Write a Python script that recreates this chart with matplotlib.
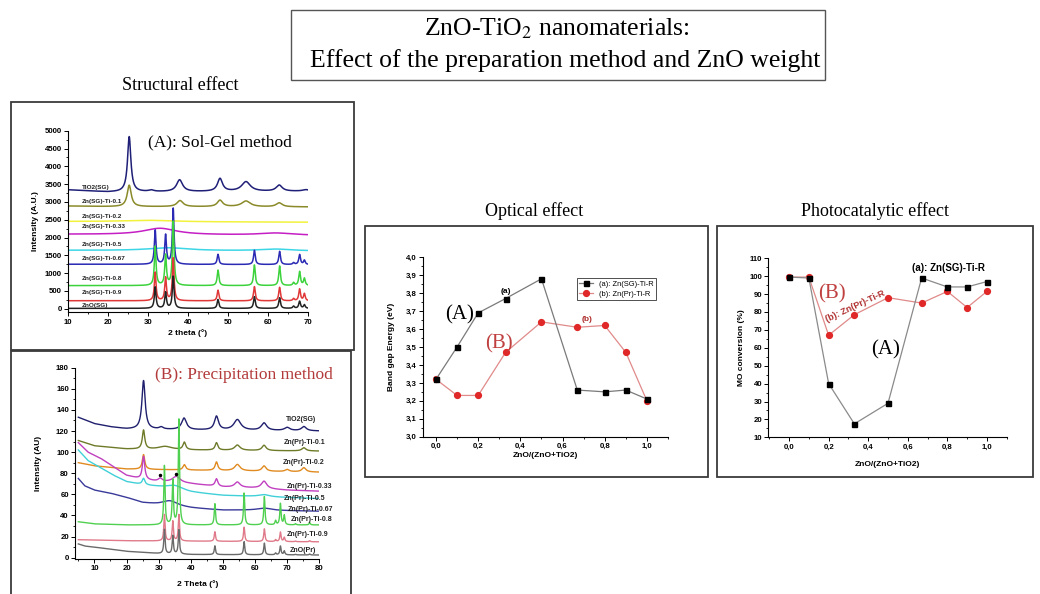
import numpy as np
import matplotlib
matplotlib.use("Agg")
import matplotlib.pyplot as plt
from matplotlib.patches import Rectangle
from matplotlib.ticker import MultipleLocator, FuncFormatter

plt.rcParams['font.family'] = ['Liberation Sans', 'DejaVu Sans']
plt.rcParams['mathtext.fontset'] = 'stix'

W, H = 1040, 594
SERIF = ['Liberation Serif', 'DejaVu Serif']

# ---------------- data: band gap / photocatalysis ----------------
zn_frac = [0.0, 0.1, 0.2, 0.33, 0.5, 0.67, 0.8, 0.9, 1.0]
gap_sg = [3.32, 3.50, 3.69, 3.77, 3.88, 3.26, 3.25, 3.26, 3.21]
gap_pr = [3.32, 3.23, 3.23, 3.47, 3.64, 3.61, 3.62, 3.47, 3.20]
conv_sg = [99.5, 99.0, 40.0, 17.5, 29.0, 99.0, 94.0, 94.0, 97.0]
conv_pr = [99.5, 99.5, 67.0, 78.5, 88.0, 85.0, 91.5, 82.5, 91.5]

# ---------------- data: XRD patterns (peak tables) ----------------
# Each pattern: label, colour, baseline knots (2theta, I), peaks (centre, height, FWHM)
sg_labels = ['TiO2(SG)', 'Zn(SG)-Ti-0.1', 'Zn(SG)-Ti-0.2', 'Zn(SG)-Ti-0.33',
             'Zn(SG)-Ti-0.5', 'Zn(SG)-Ti-0.67', 'Zn(SG)-Ti-0.8', 'Zn(SG)-Ti-0.9', 'ZnO(SG)']
sg_colors = ['#1f1f78', '#8a8a2a', '#f2f23c', '#c41ec4', '#3cd6e6',
             '#2a2ab4', '#3cd23c', '#e03838', '#222222']
sg_base = [
    [(10, 3340), (20, 3280), (70, 3300)],
    [(10, 2885), (20, 2870), (70, 2860)],
    [(10, 2450), (70, 2430)],
    [(10, 2090), (70, 2060)],
    [(10, 1640), (70, 1620)],
    [(10, 1250), (70, 1240)],
    [(10, 650), (70, 650)],
    [(10, 225), (70, 220)],
    [(10, 10), (70, 10)],
]
anatase_sg = [(25.3, 1550, 1.0), (30.8, 40, 1.5), (37.9, 330, 1.8), (48.0, 360, 1.5),
              (54.5, 270, 2.6), (62.8, 170, 1.8), (69.5, 40, 2.0)]
sg_peaks = [
    anatase_sg,
    [(25.3, 600, 1.2), (38.0, 170, 1.8), (48.0, 180, 1.6), (54.5, 160, 2.6), (62.8, 110, 1.8)],
    [(30.0, 40, 15.0)],
    [(33.0, 180, 10.0), (62.0, 60, 10.0)],
    [(35.0, 80, 12.0), (62.0, 50, 10.0)],
    [(31.8, 960, 0.5), (34.4, 820, 0.5), (36.3, 1570, 0.5), (47.5, 285, 0.5),
     (56.6, 400, 0.5), (62.9, 370, 0.5), (66.4, 50, 0.5), (67.9, 280, 0.5), (69.1, 120, 0.5)],
    [(31.8, 1100, 0.5), (34.4, 850, 0.5), (36.3, 1800, 0.5), (47.5, 435, 0.5),
     (56.6, 580, 0.5), (62.9, 550, 0.5), (66.4, 80, 0.5), (67.9, 390, 0.5), (69.1, 200, 0.5)],
    [(31.8, 800, 0.5), (34.4, 650, 0.5), (36.3, 1200, 0.5), (47.5, 300, 0.5),
     (56.6, 400, 0.5), (62.9, 380, 0.5), (66.4, 60, 0.5), (67.9, 330, 0.5), (69.1, 200, 0.5)],
    [(31.8, 600, 0.5), (34.4, 450, 0.5), (36.3, 900, 0.5), (47.5, 250, 0.5),
     (56.6, 330, 0.5), (62.9, 300, 0.5), (66.4, 60, 0.5), (67.9, 200, 0.5), (69.1, 100, 0.5)],
]
sg_label_y = [3410, 3000, 2595, 2303, 1817, 1404, 843, 449, 104]

pr_labels = ['TiO2(SG)', 'Zn(Pr)-Ti-0.1', 'Zn(Pr)-Ti-0.2', 'Zn(Pr)-Ti-0.33', 'Zn(Pr)-Ti-0.5',
             'Zn(Pr)-Ti-0.67', 'Zn(Pr)-Ti-0.8', 'Zn(Pr)-Ti-0.9', 'ZnO(Pr)']
pr_colors = ['#1f1f6e', '#6e7a28', '#e08a20', '#c040c0', '#40d0d8',
             '#3a3a9a', '#50d050', '#e07a8a', '#6a6a6a']
pr_base = [
    [(5, 133), (10, 127), (15, 124), (20, 122), (40, 121), (80, 120)],
    [(5, 111), (10, 106), (20, 103), (40, 102), (80, 101)],
    [(5, 90), (10, 87), (20, 84), (40, 83), (80, 81)],
    [(5, 109), (8, 100), (12, 94), (15, 88), (20, 78), (25, 74), (30, 72), (40, 70),
     (50, 67), (60, 66), (70, 64), (80, 63)],
    [(5, 102), (8, 92), (12, 85), (16, 78), (20, 72), (25, 69), (30, 67), (40, 62),
     (50, 59), (60, 58), (80, 56)],
    [(5, 75), (7, 68), (10, 64), (15, 61), (20, 57), (25, 52), (30, 50), (40, 47),
     (50, 45), (60, 45), (80, 44)],
    [(5, 34), (10, 32), (20, 31), (80, 31)],
    [(5, 17), (20, 16), (80, 15)],
    [(5, 13), (7, 11), (10, 10), (15, 8), (20, 6), (30, 4), (40, 3), (80, 2.5)],
]
zno_pr = [(31.8, 1.0), (34.4, 0.75), (36.3, 1.0), (47.5, 0.36), (56.6, 0.54),
          (62.9, 0.48), (66.4, 0.07), (67.9, 0.36), (69.1, 0.16), (72.6, 0.02), (77.0, 0.04)]
pr_peaks = [
    [(25.3, 46, 1.2), (30.8, 2, 1.5), (37.9, 11, 1.8), (48.0, 13, 1.5), (54.5, 10, 2.6),
     (62.8, 7, 2.0), (70.0, 3, 2.0), (75.2, 4, 1.8)],
    [(25.3, 18, 0.9), (32.0, 3, 5.0), (38.0, 7, 1.0), (48.0, 7, 1.0), (54.5, 5, 2.0),
     (62.8, 5, 1.5), (75.2, 3, 1.5)],
    [(25.3, 14, 0.9), (38.0, 5, 1.0), (48.0, 8, 1.0), (54.5, 6, 2.0), (62.8, 5, 1.5),
     (70.0, 2, 1.5), (75.2, 4, 1.5)],
    [(25.3, 22, 0.9), (30.5, 3, 1.5), (35.5, 6, 3.0), (48.0, 7, 1.0), (54.5, 5, 2.0),
     (62.8, 7, 2.0)],
    [(25.3, 6, 1.0), (35.0, 4, 6.0), (62.8, 2, 4.0)],
    [(33.5, 5, 6.0), (63.0, 2, 5.0)],
    [(c, 56 * r, 0.45) for c, r in zno_pr[:2]] + [(36.3, 100, 0.45)]
    + [(c, 56 * r, 0.45) for c, r in zno_pr[3:]],
    [(c, 25 * r, 0.45) for c, r in zno_pr],
    [(c, 23 * r, 0.45) for c, r in zno_pr],
]
pr_label_y = [131, 109, 90, 67, 56, 46, 36, 21.5, 7]
pr_label_x = [78.9, 81.8, 81.5, 84.0, 81.8, 84.3, 84.0, 82.8, 79.0]


def pattern(x, base, peaks):
    bx, by = zip(*base)
    y = np.interp(x, bx, by)
    for c, h, w in peaks:
        y = y + h / (1.0 + ((x - c) / (w / 2.0)) ** 2)
    return y


def rect(x0, y0, x1, y1):
    return [x0 / W, 1 - y1 / H, (x1 - x0) / W, (y1 - y0) / H]


def frame(x0, y0, x1, y1, lw=1.3, color='#3a3a3a'):
    fig.add_artist(Rectangle((x0 / W, 1 - y1 / H), (x1 - x0) / W, (y1 - y0) / H,
                             transform=fig.transFigure, fill=False, lw=lw,
                             edgecolor=color, clip_on=False))


def style(ax, fs=5.6):
    for s in ('top', 'right'):
        ax.spines[s].set_visible(False)
    for s in ('left', 'bottom'):
        ax.spines[s].set_linewidth(0.8)
    ax.tick_params(which='major', direction='out', length=3, width=0.7,
                   labelsize=fs, pad=1.5)
    ax.tick_params(which='minor', direction='out', length=1.6, width=0.6)
    for t in ax.get_xticklabels() + ax.get_yticklabels():
        t.set_fontweight('bold')


comma = FuncFormatter(lambda v, _: f"{v:.1f}".replace('.', ','))

fig = plt.figure(figsize=(W / 100, H / 100), dpi=100)
fig.patch.set_facecolor('white')

# ---------------- title ----------------
frame(291, 10, 825, 80, lw=1.0, color='#555555')
fig.text(557 / W, 1 - 29 / H, r'ZnO-TiO$_2$ nanomaterials:', ha='center', va='center',
         fontsize=18.5, family=SERIF)
fig.text(565 / W, 1 - 61 / H, 'Effect of the preparation method and ZnO weight',
         ha='center', va='center', fontsize=18.5, family=SERIF)

fig.text(180 / W, 1 - 86 / H, 'Structural effect', ha='center', va='center',
         fontsize=13, family=SERIF)
fig.text(534 / W, 1 - 211 / H, 'Optical effect', ha='center', va='center',
         fontsize=13, family=SERIF)
fig.text(875 / W, 1 - 211 / H, 'Photocatalytic effect', ha='center', va='center',
         fontsize=13, family=SERIF)

# ---------------- (A) sol-gel XRD ----------------
frame(11, 102, 354, 350)
axA = fig.add_axes(rect(68, 130.7, 308, 312.3))
xa = np.linspace(10, 70, 2400)
for base, peaks, col in zip(sg_base, sg_peaks, sg_colors):
    axA.plot(xa, pattern(xa, base, peaks), color=col, lw=1.1)
for lab, yl in zip(sg_labels, sg_label_y):
    axA.text(13.4, yl, lab, fontsize=4.6, fontweight='bold', color='#222222',
             ha='left', va='center')
axA.text(30, 4683, '(A): Sol-Gel method', fontsize=12.5, family=SERIF,
         ha='left', va='center')
axA.set_xlim(10, 70)
axA.set_ylim(-100, 5000)
axA.xaxis.set_major_locator(MultipleLocator(10))
axA.xaxis.set_minor_locator(MultipleLocator(5))
axA.yaxis.set_major_locator(MultipleLocator(500))
axA.yaxis.set_minor_locator(MultipleLocator(250))
axA.set_xlabel('2 theta (°)', fontsize=6, fontweight='bold')
axA.set_ylabel('Intensity (A.U.)', fontsize=6, fontweight='bold')
axA.yaxis.set_label_coords(-0.121, 0.5)
axA.xaxis.set_label_coords(0.5, -0.092)
style(axA)

# ---------------- (B) precipitation XRD ----------------
frame(11, 351, 351, 600)
axB = fig.add_axes(rect(75.1, 367.7, 319.3, 558.7))
xb = np.linspace(5, 80, 3000)
for base, peaks, col in zip(pr_base, pr_peaks, pr_colors):
    axB.plot(xb, pattern(xb, base, peaks), color=col, lw=1.0)
for lab, yl, xl in zip(pr_labels, pr_label_y, pr_label_x):
    axB.text(xl, yl, lab, fontsize=5.0, fontweight='bold', color='#222222',
             ha='right', va='center', clip_on=False)
axB.plot([30.5, 35.3], [78.5, 79.5], 'k.', ms=3)
axB.text(28.9, 173, '(B): Precipitation method', fontsize=12.5, family=SERIF,
         color='#b33a3a', ha='left', va='center')
axB.set_xlim(4, 80)
axB.set_ylim(-1, 180)
axB.xaxis.set_major_locator(MultipleLocator(10))
axB.xaxis.set_minor_locator(MultipleLocator(5))
axB.yaxis.set_major_locator(MultipleLocator(20))
axB.yaxis.set_minor_locator(MultipleLocator(10))
axB.set_xlabel('2 Theta (°)', fontsize=6, fontweight='bold')
axB.set_ylabel('Intensity (AU)', fontsize=6, fontweight='bold')
axB.yaxis.set_label_coords(-0.136, 0.5)
axB.xaxis.set_label_coords(0.5, -0.112)
style(axB)

# ---------------- optical: band gap ----------------
frame(365, 226, 708, 477)
axO = fig.add_axes(rect(422.7, 257.3, 668, 436.7))
axO.plot(zn_frac, gap_sg, color='#7a7a7a', lw=0.9, marker='s', ms=3.6,
         mfc='black', mec='black', label='(a): Zn(SG)-Ti-R', zorder=3)
axO.plot(zn_frac, gap_pr, color='#e08a8a', lw=0.9, marker='o', ms=4.2,
         mfc='#e02828', mec='#e02828', label='(b): Zn(Pr)-Ti-R', zorder=2)
axO.set_xlim(-0.063, 1.10)
axO.set_ylim(3.0, 4.0)
axO.xaxis.set_major_locator(MultipleLocator(0.2))
axO.xaxis.set_minor_locator(MultipleLocator(0.1))
axO.yaxis.set_major_locator(MultipleLocator(0.1))
axO.yaxis.set_minor_locator(MultipleLocator(0.05))
axO.xaxis.set_major_formatter(comma)
axO.yaxis.set_major_formatter(comma)
axO.text(0.33, 3.81, '(a)', fontsize=6, fontweight='bold', ha='center', va='center')
axO.text(0.715, 3.656, '(b)', fontsize=6, fontweight='bold', color='#b03030',
         ha='center', va='center')
axO.text(0.114, 3.68, '(A)', fontsize=15, family=SERIF, ha='center', va='center')
axO.text(0.30, 3.52, '(B)', fontsize=15, family=SERIF, color='#c04040',
         ha='center', va='center')
leg = axO.legend(loc='upper left', bbox_to_anchor=(0.613, 0.905), fontsize=5.4,
                 handlelength=1.8, borderpad=0.35, labelspacing=0.35,
                 fancybox=False, edgecolor='#333333', framealpha=1)
leg.get_frame().set_linewidth(0.6)
axO.set_xlabel('ZnO/(ZnO+TiO2)', fontsize=6, fontweight='bold')
axO.set_ylabel('Band gap Energy (eV)', fontsize=6, fontweight='bold')
axO.yaxis.set_label_coords(-0.113, 0.5)
axO.xaxis.set_label_coords(0.5, -0.085)
style(axO)

# ---------------- photocatalysis: MO conversion ----------------
frame(717, 226, 1033, 477)
axP = fig.add_axes(rect(768.3, 258.3, 1006.7, 437.3))
axP.plot(zn_frac, conv_sg, color='#8a8a8a', lw=0.9, marker='s', ms=3.6,
         mfc='black', mec='black', zorder=3)
axP.plot(zn_frac, conv_pr, color='#e08a8a', lw=0.9, marker='o', ms=4.2,
         mfc='#e02828', mec='#e02828', zorder=2)
axP.set_xlim(-0.105, 1.10)
axP.set_ylim(10, 110)
axP.xaxis.set_major_locator(MultipleLocator(0.2))
axP.xaxis.set_minor_locator(MultipleLocator(0.1))
axP.yaxis.set_major_locator(MultipleLocator(10))
axP.yaxis.set_minor_locator(MultipleLocator(5))
axP.xaxis.set_major_formatter(comma)
axP.text(0.62, 104.7, '(a): Zn(SG)-Ti-R', fontsize=7, fontweight='bold',
         ha='left', va='center')
axP.text(0.216, 90.4, '(B)', fontsize=15, family=SERIF, color='#c04040',
         ha='center', va='center')
axP.text(0.334, 83, '(b): Zn(Pr)-Ti-R', fontsize=6.5, fontweight='bold',
         color='#b03030', rotation=25, ha='center', va='center')
axP.text(0.486, 58.8, '(A)', fontsize=15, family=SERIF, ha='center', va='center')
axP.set_xlabel('ZnO/(ZnO+TiO2)', fontsize=6, fontweight='bold')
axP.set_ylabel('MO conversion (%)', fontsize=6, fontweight='bold')
axP.yaxis.set_label_coords(-0.098, 0.5)
axP.xaxis.set_label_coords(0.5, -0.132)
style(axP)

fig.savefig('out.png', dpi=100, facecolor='white')
